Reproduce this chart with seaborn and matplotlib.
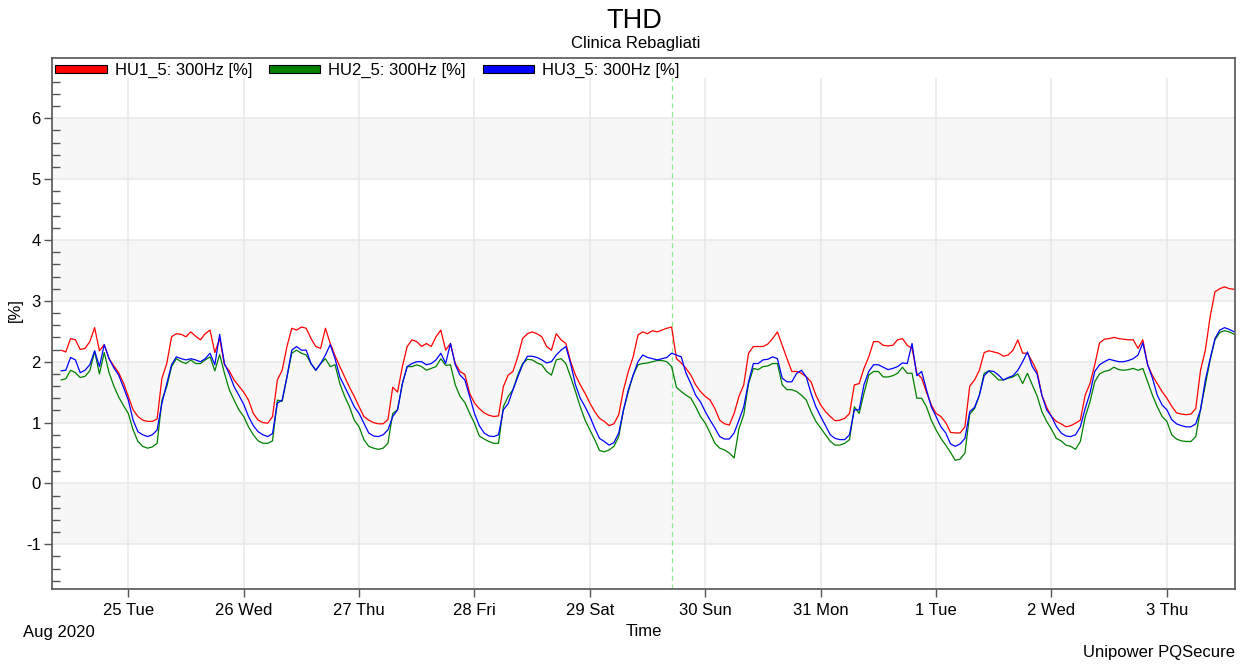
import numpy as np
import pandas as pd
import matplotlib
matplotlib.use("Agg")
import matplotlib.pyplot as plt
import matplotlib.dates as mdates
from matplotlib.patches import Patch, Rectangle
from matplotlib.ticker import MultipleLocator, FuncFormatter
import seaborn as sns

# ---- data: hourly 5th-harmonic (300 Hz) voltage distortion per phase, in % ----
series_names = ["HU1_5: 300Hz [%]", "HU2_5: 300Hz [%]", "HU3_5: 300Hz [%]"]
series_colors = ["#ff0000", "#008000", "#0000ff"]
first_sample = "2020-08-24 10:00"

hu1 = [
    2.19, 2.16, 2.38, 2.36, 2.20, 2.22, 2.33, 2.56, 2.18, 2.28, 2.05, 1.93, 1.82, 1.65,  # Aug 24 10h-23h
    1.43, 1.21, 1.10, 1.04, 1.02, 1.02, 1.06, 1.73, 1.97, 2.41, 2.46, 2.45, 2.41, 2.49, 2.42, 2.36, 2.46, 2.52, 2.15, 2.38, 1.95, 1.85, 1.70, 1.60,  # Aug 25
    1.50, 1.37, 1.15, 1.04, 1.00, 0.99, 1.10, 1.70, 1.86, 2.25, 2.55, 2.52, 2.57, 2.55, 2.38, 2.25, 2.22, 2.55, 2.30, 2.10, 1.92, 1.75, 1.58, 1.43,  # Aug 26
    1.26, 1.10, 1.04, 1.00, 0.98, 0.98, 1.05, 1.58, 1.50, 1.92, 2.25, 2.36, 2.33, 2.25, 2.30, 2.25, 2.41, 2.52, 2.19, 2.30, 1.97, 1.84, 1.79, 1.48,  # Aug 27
    1.32, 1.23, 1.16, 1.12, 1.10, 1.11, 1.59, 1.78, 1.84, 2.08, 2.38, 2.46, 2.49, 2.46, 2.41, 2.25, 2.19, 2.46, 2.36, 2.30, 2.00, 1.78, 1.62, 1.48,  # Aug 28
    1.32, 1.18, 1.07, 1.02, 0.95, 0.98, 1.13, 1.54, 1.84, 2.08, 2.44, 2.49, 2.46, 2.51, 2.49, 2.52, 2.55, 2.57, 2.05, 1.98, 1.89, 1.78, 1.62, 1.51,  # Aug 29
    1.43, 1.37, 1.23, 1.04, 0.98, 0.96, 1.15, 1.43, 1.62, 2.14, 2.25, 2.25, 2.25, 2.29, 2.38, 2.49, 2.27, 2.05, 1.84, 1.84, 1.81, 1.75, 1.67, 1.45,  # Aug 30
    1.29, 1.18, 1.10, 1.03, 1.04, 1.07, 1.15, 1.62, 1.64, 1.89, 2.08, 2.33, 2.33, 2.27, 2.26, 2.27, 2.36, 2.38, 2.27, 2.22, 1.81, 1.73, 1.50, 1.29,  # Aug 31
    1.15, 1.10, 1.00, 0.84, 0.83, 0.83, 0.93, 1.60, 1.70, 1.86, 2.15, 2.18, 2.16, 2.14, 2.09, 2.11, 2.19, 2.36, 2.14, 2.14, 2.00, 1.84, 1.45, 1.25,  # Sep 1
    1.10, 1.02, 0.98, 0.93, 0.95, 0.99, 1.04, 1.45, 1.64, 1.95, 2.31, 2.37, 2.38, 2.40, 2.38, 2.37, 2.36, 2.36, 2.22, 2.36, 1.95, 1.77, 1.64, 1.51,  # Sep 2
    1.40, 1.27, 1.16, 1.14, 1.13, 1.14, 1.23, 1.86, 2.19, 2.74, 3.15, 3.20, 3.23, 3.20, 3.19,  # Sep 3 0h-14h
]

hu2 = [
    1.70, 1.72, 1.86, 1.82, 1.74, 1.76, 1.85, 2.17, 1.80, 2.15, 1.82, 1.60, 1.42, 1.28,
    1.15, 0.88, 0.69, 0.61, 0.58, 0.60, 0.66, 1.37, 1.59, 1.92, 2.05, 2.00, 1.97, 2.03, 1.97, 1.97, 2.03, 2.08, 1.85, 2.12, 1.81, 1.54, 1.37, 1.21,
    1.10, 0.93, 0.80, 0.70, 0.66, 0.66, 0.70, 1.37, 1.35, 1.75, 2.14, 2.19, 2.14, 2.11, 1.97, 1.86, 1.97, 2.05, 1.92, 1.95, 1.64, 1.43, 1.26, 1.04,
    0.93, 0.72, 0.61, 0.58, 0.56, 0.58, 0.66, 1.15, 1.21, 1.64, 1.92, 1.92, 1.95, 1.92, 1.86, 1.89, 1.92, 2.05, 1.94, 1.95, 1.62, 1.43, 1.33, 1.15,
    0.99, 0.78, 0.73, 0.69, 0.66, 0.66, 1.26, 1.43, 1.54, 1.78, 1.97, 2.04, 2.03, 1.98, 1.95, 1.84, 1.78, 2.03, 2.05, 1.97, 1.75, 1.51, 1.26, 1.04,
    0.88, 0.72, 0.54, 0.52, 0.55, 0.61, 0.77, 1.21, 1.51, 1.78, 1.95, 1.97, 1.98, 2.00, 2.02, 2.02, 2.00, 1.92, 1.58, 1.51, 1.45, 1.40, 1.26, 1.10,
    0.99, 0.83, 0.66, 0.58, 0.55, 0.50, 0.42, 0.90, 1.13, 1.64, 1.89, 1.87, 1.92, 1.93, 1.97, 1.97, 1.62, 1.54, 1.54, 1.51, 1.45, 1.37, 1.18, 1.02,
    0.91, 0.80, 0.69, 0.63, 0.63, 0.66, 0.72, 1.26, 1.15, 1.48, 1.78, 1.84, 1.84, 1.75, 1.75, 1.77, 1.81, 1.91, 1.81, 1.81, 1.40, 1.40, 1.26, 1.04,
    0.88, 0.74, 0.63, 0.51, 0.38, 0.40, 0.50, 1.14, 1.23, 1.45, 1.81, 1.85, 1.78, 1.70, 1.70, 1.73, 1.75, 1.80, 1.64, 1.81, 1.62, 1.44, 1.18, 1.02,
    0.89, 0.74, 0.70, 0.63, 0.61, 0.56, 0.69, 1.09, 1.34, 1.67, 1.80, 1.84, 1.86, 1.91, 1.87, 1.86, 1.87, 1.89, 1.86, 1.89, 1.67, 1.45, 1.26, 1.10,
    1.02, 0.80, 0.73, 0.70, 0.69, 0.69, 0.77, 1.22, 1.62, 2.03, 2.36, 2.48, 2.51, 2.49, 2.45,
]

hu3 = [
    1.85, 1.86, 2.07, 2.03, 1.82, 1.86, 1.95, 2.18, 1.92, 2.28, 2.05, 1.90, 1.78, 1.58,
    1.37, 1.04, 0.85, 0.80, 0.77, 0.80, 0.88, 1.32, 1.64, 1.95, 2.08, 2.05, 2.03, 2.05, 2.03, 2.00, 2.05, 2.14, 1.95, 2.45, 1.97, 1.80, 1.59, 1.45,
    1.30, 1.10, 0.95, 0.85, 0.80, 0.77, 0.82, 1.32, 1.37, 1.75, 2.19, 2.25, 2.19, 2.19, 1.97, 1.86, 1.97, 2.11, 2.28, 2.05, 1.75, 1.59, 1.43, 1.26,
    1.15, 0.99, 0.83, 0.78, 0.77, 0.80, 0.88, 1.10, 1.21, 1.64, 1.92, 1.97, 2.00, 2.00, 1.95, 1.97, 2.03, 2.14, 1.97, 2.30, 1.95, 1.78, 1.70, 1.43,
    1.15, 0.95, 0.83, 0.78, 0.77, 0.80, 1.21, 1.31, 1.54, 1.75, 1.95, 2.09, 2.09, 2.07, 2.03, 1.98, 2.00, 2.11, 2.19, 2.25, 1.97, 1.62, 1.40, 1.26,
    1.10, 0.91, 0.74, 0.69, 0.63, 0.67, 0.83, 1.21, 1.54, 1.78, 2.00, 2.11, 2.07, 2.05, 2.03, 2.05, 2.07, 2.14, 2.11, 2.08, 1.81, 1.64, 1.45, 1.34,
    1.18, 1.04, 0.91, 0.77, 0.73, 0.73, 0.83, 1.04, 1.26, 1.67, 1.97, 1.97, 2.03, 2.04, 2.08, 2.05, 1.73, 1.67, 1.67, 1.81, 1.86, 1.75, 1.48, 1.26,
    1.10, 0.95, 0.80, 0.74, 0.72, 0.72, 0.80, 1.21, 1.21, 1.62, 1.84, 1.95, 1.95, 1.91, 1.87, 1.89, 1.92, 1.98, 1.97, 2.30, 1.77, 1.84, 1.54, 1.26,
    1.10, 0.93, 0.83, 0.65, 0.61, 0.65, 0.74, 1.18, 1.25, 1.45, 1.77, 1.85, 1.84, 1.78, 1.70, 1.74, 1.77, 1.86, 2.00, 2.16, 1.92, 1.80, 1.45, 1.21,
    1.10, 0.94, 0.83, 0.78, 0.77, 0.80, 0.93, 1.23, 1.48, 1.84, 1.95, 2.00, 2.04, 2.02, 2.00, 2.00, 2.02, 2.05, 2.11, 2.31, 1.95, 1.73, 1.45, 1.29,
    1.21, 1.05, 0.98, 0.95, 0.93, 0.93, 0.98, 1.21, 1.70, 2.05, 2.38, 2.52, 2.56, 2.53, 2.49,
]

event_time = "2020-08-29 17:08"
view_start, view_end = "2020-08-24 08:08", "2020-09-03 14:10"
y_major = [-1, 0, 1, 2, 3, 4, 5, 6]
shaded_bands = [(-1, 0), (1, 2), (3, 4), (5, 6)]

# ---- long-form table for seaborn ----
n = min(len(hu1), len(hu2), len(hu3))
times = pd.date_range(first_sample, periods=n, freq="h")
df = pd.DataFrame({
    "time": np.tile(times, 3),
    "value": hu1[:n] + hu2[:n] + hu3[:n],
    "series": np.repeat(series_names, n),
})

sns.set_theme(style="white")
plt.rcParams["font.family"] = ["Liberation Sans", "DejaVu Sans"]
plt.rcParams["text.color"] = "black"
plt.rcParams["axes.labelcolor"] = "black"
plt.rcParams["xtick.color"] = "black"
plt.rcParams["ytick.color"] = "black"
plt.rcParams["axes.unicode_minus"] = False

W, H = 1245, 664
fig = plt.figure(figsize=(W / 100, H / 100), dpi=100)
fig.patch.set_facecolor("white")
ax = fig.add_axes([52 / W, 75 / H, 1183 / W, 531 / H])
ax.set_facecolor("white")

for lo, hi in shaded_bands:
    ax.axhspan(lo, hi, color="#f7f7f7", lw=0, zorder=0)

sns.lineplot(
    data=df, x="time", y="value", hue="series", hue_order=series_names,
    palette=dict(zip(series_names, series_colors)), legend=False,
    estimator=None, linewidth=0.9, ax=ax,
)

ax.axvline(mdates.date2num(pd.Timestamp(event_time)), color="#8fe88f",
           lw=0.9, ls=(0, (4, 3)), zorder=1.5)

# axes limits and ticks
ax.set_xlim(mdates.date2num(pd.Timestamp(view_start)), mdates.date2num(pd.Timestamp(view_end)))
ax.set_ylim(-1.734, 6.99)
ax.set_yticks(y_major)
ax.yaxis.set_minor_locator(MultipleLocator(0.2))
ax.xaxis.set_major_locator(mdates.DayLocator())
ax.xaxis.set_major_formatter(FuncFormatter(
    lambda v, pos: f"{mdates.num2date(v).day} {mdates.num2date(v).strftime('%a')}"))

tick_col = "#555555"
ax.tick_params(axis="y", which="major", direction="out", length=6, width=1,
               color=tick_col, labelcolor="black", labelsize=12, pad=2.2, left=True)
ax.tick_params(axis="y", which="minor", direction="in", length=6, width=1,
               color=tick_col, left=True)
ax.tick_params(axis="x", which="major", direction="out", length=6, width=1,
               color=tick_col, labelcolor="black", labelsize=12, pad=4, bottom=True)
ax.tick_params(axis="x", which="minor", bottom=False)

ax.grid(True, which="major", axis="both", color="#e8e8e8", lw=1.1)
ax.set_axisbelow(True)
ax.set_xlabel("")
ax.set_ylabel("")

for sp in ax.spines.values():
    sp.set_visible(True)
    sp.set_color(tick_col)
    sp.set_linewidth(1.2)
    sp.set_zorder(4)

# blank strip at the top of the frame that holds the legend
ax.add_patch(Rectangle((0, (589 - 78) / 531), 1, 20 / 531, transform=ax.transAxes,
                       facecolor="white", edgecolor="none", zorder=3, clip_on=False))

handles = [Patch(facecolor=c, edgecolor="black", linewidth=0.8) for c in series_colors]
leg = ax.legend(handles, series_names, ncol=3, loc="center left",
                bbox_to_anchor=(3 / 1183, 1 - 12.5 / 531), frameon=False, fontsize=12,
                handlelength=3.1, handleheight=0.42, handletextpad=0.48,
                columnspacing=1.0, borderpad=0, borderaxespad=0)
for t in leg.get_texts():
    t.set_color("black")

# titles and annotations
fig.text(634 / W, 1 - 28.3 / H, "THD", ha="center", va="baseline", fontsize=19.5, color="black")
fig.text(636 / W, 1 - 48 / H, "Clinica Rebagliati", ha="center", va="baseline", fontsize=12, color="black")
fig.text(643.5 / W, 1 - 636.5 / H, "Time", ha="center", va="baseline", fontsize=12, color="black")
fig.text(22.7 / W, 1 - 636.5 / H, "Aug 2020", ha="left", va="baseline", fontsize=12, color="black")
fig.text(1235 / W, 1 - 657.3 / H, "Unipower PQSecure", ha="right", va="baseline", fontsize=12, color="black")
fig.text(15.5 / W, 1 - 310 / H, "[%]", ha="center", va="center", rotation=90, fontsize=12, color="black")

fig.savefig("out.png", dpi=100, facecolor="white")
